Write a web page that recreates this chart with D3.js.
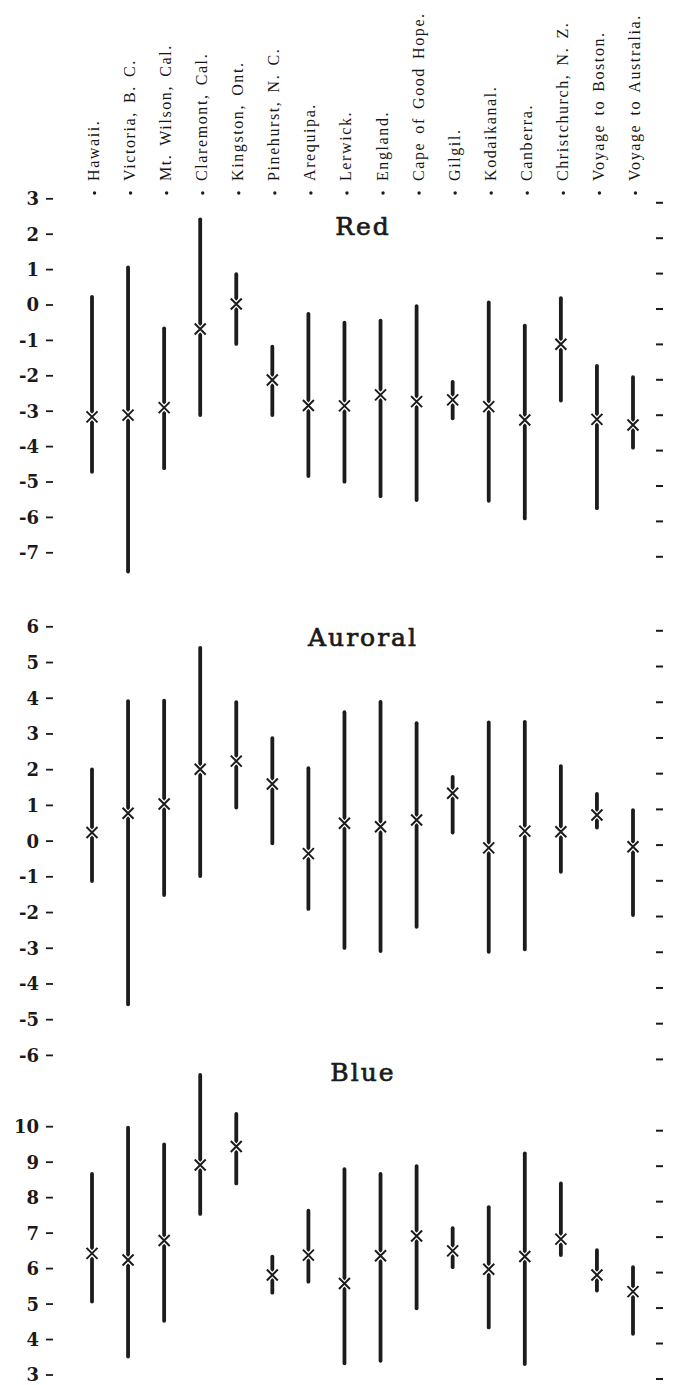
<!DOCTYPE html>
<html lang="en">
<head>
  <meta charset="UTF-8">
  <title>Red, Auroral and Blue</title>
  <script src="https://d3js.org/d3.v7.min.js"></script>
  <style>
    body { margin: 0; background: #fff; }
    svg { display: block; }
    .station { font-family: "Liberation Serif", serif; font-size: 16px; letter-spacing: 1.6px; word-spacing: 2.5px; fill: #161616; }
    .tick-label { font-family: "DejaVu Serif", serif; font-weight: bold; font-size: 18px; fill: #1a1a1a; }
    .title { font-family: "DejaVu Serif", serif; font-size: 25px; letter-spacing: 2px; fill: #1a1a1a; stroke: #1a1a1a; stroke-width: 0.7px; }
  </style>
</head>
<body>
  <svg id="chart"></svg>
  <script>
    // station columns
    const stations = ["Hawaii.", "Victoria, B. C.", "Mt. Wilson, Cal.", "Claremont, Cal.", "Kingston, Ont.",
      "Pinehurst, N. C.", "Arequipa.", "Lerwick.", "England.", "Cape of Good Hope.", "Gilgil.",
      "Kodaikanal.", "Canberra.", "Christchurch, N. Z.", "Voyage to Boston.", "Voyage to Australia."];

    // Red
    const redMean = [-3.16, -3.11, -2.90, -0.68, 0.03, -2.12, -2.84, -2.85, -2.54, -2.73, -2.68, -2.87, -3.25, -1.11, -3.23, -3.39];
    const redHigh = [0.23, 1.06, -0.66, 2.42, 0.87, -1.18, -0.25, -0.50, -0.44, -0.03, -2.17, 0.07, -0.58, 0.19, -1.72, -2.04];
    const redLow  = [-4.71, -7.53, -4.61, -3.11, -1.10, -3.11, -4.83, -4.99, -5.40, -5.51, -3.20, -5.53, -6.03, -2.70, -5.74, -4.03];
    const redTicks = [3, 2, 1, 0, -1, -2, -3, -4, -5, -6, -7];

    // Auroral
    const aurMean = [0.24, 0.78, 1.04, 2.01, 2.24, 1.60, -0.35, 0.50, 0.40, 0.59, 1.34, -0.19, 0.28, 0.26, 0.73, -0.16];
    const aurHigh = [2.01, 3.92, 3.93, 5.41, 3.89, 2.88, 2.04, 3.61, 3.90, 3.30, 1.80, 3.32, 3.34, 2.10, 1.32, 0.87];
    const aurLow  = [-1.12, -4.57, -1.51, -0.98, 0.94, -0.06, -1.90, -2.99, -3.08, -2.40, 0.24, -3.10, -3.03, -0.86, 0.38, -2.07];
    const aurTicks = [6, 5, 4, 3, 2, 1, 0, -1, -2, -3, -4, -5, -6];

    // Blue
    const blueMean = [6.43, 6.24, 6.79, 8.92, 9.44, 5.82, 6.38, 5.58, 6.36, 6.92, 6.50, 5.98, 6.34, 6.83, 5.82, 5.35];
    const blueHigh = [8.67, 9.97, 9.50, 11.46, 10.36, 6.34, 7.63, 8.80, 8.67, 8.89, 7.14, 7.73, 9.25, 8.40, 6.52, 6.04];
    const blueLow  = [5.07, 3.52, 4.53, 7.54, 8.40, 5.32, 5.63, 3.33, 3.40, 4.88, 6.04, 4.34, 3.31, 6.38, 5.38, 4.16];
    const blueTicks = [10, 9, 8, 7, 6, 5, 4, 3];

    const width = 673, height = 1385;
    const ink = "#1c1c1c";

    const svg = d3.select("#chart")
      .attr("width", width)
      .attr("height", height);

    const x = d3.scalePoint()
      .domain(stations)
      .range([92, 633]);

    // station labels, rotated, with the leading dot
    const labels = svg.append("g").attr("class", "labels");
    labels.selectAll("circle")
      .data(stations)
      .enter().append("circle")
      .attr("cx", d => x(d) + 2.5)
      .attr("cy", 193)
      .attr("r", 1.7)
      .attr("fill", ink);
    labels.selectAll("text")
      .data(stations)
      .enter().append("text")
      .attr("class", "station")
      .attr("transform", d => "translate(" + (x(d) + 7) + ",181) rotate(-90)")
      .text(d => d);

    const panels = [
      { title: "Red", mean: redMean, high: redHigh, low: redLow, ticks: redTicks, range: [198.8, 552.8], titleY: 235 },
      { title: "Auroral", mean: aurMean, high: aurHigh, low: aurLow, ticks: aurTicks, range: [626.8, 1055.4], titleY: 646 },
      { title: "Blue", mean: blueMean, high: blueHigh, low: blueLow, ticks: blueTicks, range: [1126.7, 1375], titleY: 1081 }
    ];

    panels.forEach(p => {
      const y = d3.scaleLinear()
        .domain([p.ticks[0], p.ticks[p.ticks.length - 1]])
        .range(p.range);
      const g = svg.append("g").attr("class", "panel");

      // left axis: labels with a short dash
      const lt = g.append("g").selectAll("g")
        .data(p.ticks)
        .enter().append("g")
        .attr("transform", d => "translate(0," + y(d) + ")");
      lt.append("text")
        .attr("class", "tick-label")
        .attr("x", 39)
        .attr("dy", "0.36em")
        .attr("text-anchor", "end")
        .text(d => String(d));
      lt.append("line")
        .attr("x1", 46).attr("x2", 53)
        .attr("stroke", ink).attr("stroke-width", 1.8);

      // right axis: dashes only
      g.append("g").selectAll("line")
        .data(p.ticks)
        .enter().append("line")
        .attr("x1", 656).attr("x2", 663)
        .attr("y1", d => y(d) + 4).attr("y2", d => y(d) + 4)
        .attr("stroke", ink).attr("stroke-width", 2);

      // title
      g.append("text")
        .attr("class", "title")
        .attr("x", 363)
        .attr("y", p.titleY)
        .attr("text-anchor", "middle")
        .text(p.title);

      const rows = stations.map((s, i) => ({ s: s, mean: p.mean[i], high: p.high[i], low: p.low[i] }));

      // range bars
      g.append("g").selectAll("line")
        .data(rows)
        .enter().append("line")
        .attr("x1", d => x(d.s)).attr("x2", d => x(d.s))
        .attr("y1", d => y(d.high)).attr("y2", d => y(d.low))
        .attr("stroke", ink).attr("stroke-width", 3.8)
        .attr("stroke-linecap", "round");

      // mean markers: white-backed crosses
      const m = g.append("g").selectAll("g")
        .data(rows)
        .enter().append("g")
        .attr("transform", d => "translate(" + x(d.s) + "," + y(d.mean) + ")");
      m.append("path")
        .attr("d", "M-5.5,-5.5L5.5,5.5M-5.5,5.5L5.5,-5.5")
        .attr("stroke", "#fff").attr("stroke-width", 4.5);
      m.append("path")
        .attr("d", "M-5.5,-5.5L5.5,5.5M-5.5,5.5L5.5,-5.5")
        .attr("stroke", ink).attr("stroke-width", 2);
    });
  </script>
</body>
</html>
